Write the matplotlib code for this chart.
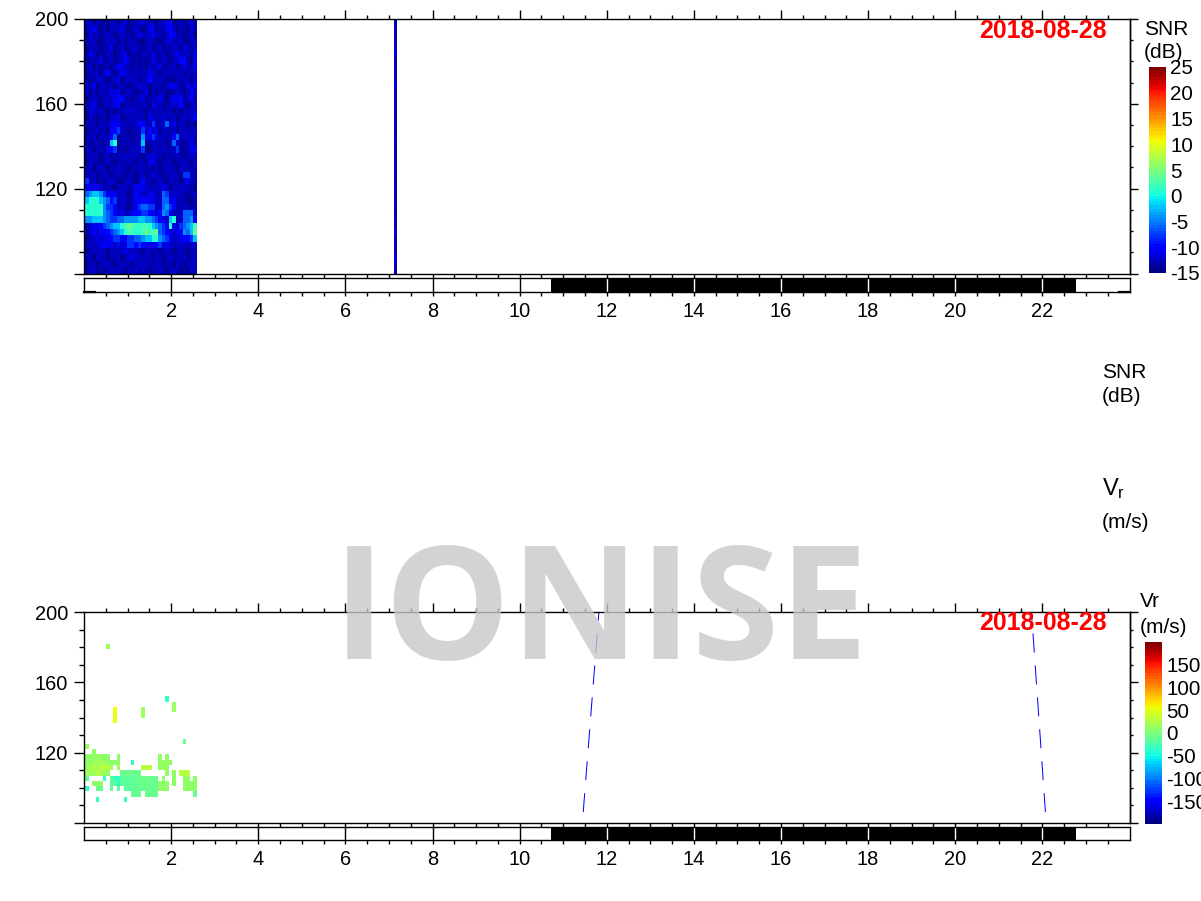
import numpy as np
import matplotlib
matplotlib.use("Agg")
import matplotlib.pyplot as plt
from matplotlib.cm import ScalarMappable
from matplotlib.colors import Normalize

plt.rcParams['font.family'] = ['Liberation Sans', 'DejaVu Sans']
plt.rcParams['axes.unicode_minus'] = False
plt.rcParams['mathtext.default'] = 'regular'

W, H = 1201, 901
LW = 1.0
FS = 14.4

CELL_HOURS = 0.08
CELL_KM = 3
T0 = 0.03
DATE = "2018-08-28"
NIGHT_START, NIGHT_END = 10.72, 22.78
STRIPE_T = 7.11

HOUR_MAJOR = [2, 4, 6, 8, 10, 12, 14, 16, 18, 20, 22]
HOUR_MINOR = [0.5, 1, 1.5, 2.5, 3, 3.5, 4.5, 5, 5.5, 6.5, 7, 7.5, 8.5, 9, 9.5, 10.5, 11, 11.5, 12.5, 13, 13.5,
              14.5, 15, 15.5, 16.5, 17, 17.5, 18.5, 19, 19.5, 20.5, 21, 21.5, 22.5, 23, 23.5]
RANGE_MAJOR = [80, 120, 160, 200]
RANGE_MINOR = [90, 100, 110, 130, 140, 150, 170, 180, 190]

# SNR levels in dB, indexed by the hex digit in the rows below
SNR_LEVELS = [-14, -13, -12, -11, -10, -8, -6, -4, -2, 1, 2, 4]
SNR_ROWS = [
    "22011001 20130111 31120213 40120130",
    "12310102 12310121 01330113 42011021",
    "03120212 01211013 21241102 43110120",
    "11200121 20101210 01210012 31120012",
    "02110113 01201121 01201201 12203112",
    "13201021 01230110 21130120 12321203",
    "01113012 01242010 10131121 01244103",
    "12010110 23321020 10212301 12013113",
    "02120241 01331211 11321021 11120112",
    "10122101 23012120 12421210 10112102",
    "11301212 02110113 22011102 33210313",
    "20102113 24012101 13010120 01210142",
    "01210221 34411012 30121320 23340231",
    "12310112 34021111 12031201 12241012",
    "03212102 01122221 10212111 20101122",
    "02101102 23011212 10321131 12012124",
    "12102113 33211124 42151126 23112010",
    "01121104 45210111 52423021 12021112",
    "11201123 60111011 73353121 14612221",
    "10120118 90111112 80121120 16210131",
    "12012034 50101122 50012121 12501133",
    "11210120 11221211 02231101 11210121",
    "02110121 01112102 10331011 20112102",
    "12012101 12110112 11102012 11022111",
    "11201210 12101101 20131101 22105511",
    "51201022 10012101 41101210 21101311",
    "33332111 02121133 32111232 01122110",
    "67887533 41210142 21331165 12211012",
    "89998764 51220233 44331266 33111001",
    "99999755 41210135 66551267 54112101",
    "99999765 42312344 55442476 31126662",
    "77888765 56677778 87765332 89126673",
    "12334567 889abaa9 aa987654 9325678a",
    "12424345 6789aa99 abaab654 3234768b",
    "01232334 55445566 78899765 32234458",
    "12123433 24235545 43334523 21222122",
    "01212102 11232121 02112012 10111011",
    "11021201 12012321 12102101 21112012",
    "02101221 01211012 21111201 10210121",
    "11201012 12101120 21011210 22101021",
]
SNR_STRIPE = [-13, -12, -13, -12, -12, -11, -13, -12, -13, -12, -11, -13, -12, -13, -12, -13, -12, -13, -12, -12,
              -13, -13, -12, -13, -12, -13, -12, -13, -12, -13, -13, -12, -13, -11, -13, -12, -13, -11, -12, -13]

# Radial velocity levels in m/s, indexed by the digit in the rows below; '.' is no data
VR_LEVELS = [-45, -32, -15, -8, 8, 18, 30, 40, 55]
BLANK = "........ ........ ........ ........"
VR_ROWS = [BLANK] * 6 + [
    "......5. ........ ........ ........",
] + [BLANK] * 9 + [
    "........ ........ .......1 ........",
    "........ ........ ........ .5......",
    "........ 8....... 5....... .5......",
    "........ 8....... 5....... ........",
    "........ 8....... ........ ........",
] + [BLANK] * 3 + [
    "........ ........ ........ ....3...",
    "5....... ........ ........ ........",
    "..4..... ........ ........ ........",
    "4445444. .4...... .....4.4 ........",
    "44555544 44...1.. .....445 4.......",
    "55656665 .5...... 666..454 ........",
    "5556554. ..333333 .......4 .4.666..",
    "2....1.2 11222233 33333.4. .4..44.4",
    "..444..2 21222233 33333444 .4..4444",
    "1..33..2 .2.22233 33333444 ....4444",
    "........ .....333 .3333... .......3",
    "...1.... ...1.... ........ ........",
] + [BLANK] * 4

# Terminator lines of the velocity panel: hour and range at each end
TERM_1_T, TERM_1_R = [11.46, 11.82], [86.2, 200]
TERM_2_T, TERM_2_R = [22.07, 21.75], [86.2, 200]

SNR_TICKS = [-15, -10, -5, 0, 5, 10, 15, 20, 25]
VR_TICKS = [-150, -100, -50, 0, 50, 100, 150]

snr = np.array([[SNR_LEVELS[int(ch, 16)] for ch in row.replace(" ", "")] for row in SNR_ROWS], float)
vr = np.array([[np.nan if ch == '.' else VR_LEVELS[int(ch)] for ch in row.replace(" ", "")] for row in VR_ROWS], float)

cmap = plt.get_cmap('jet', 64)
t_edges = T0 + CELL_HOURS * np.arange(snr.shape[1] + 1)
r_edges = 200 - CELL_KM * np.arange(snr.shape[0] + 1)


def box(l, t, r, b):
    return [l / W, 1 - b / H, (r - l) / W, (b - t) / H]


def ftext(x, y, s, **kw):
    kw.setdefault('fontsize', 15)
    kw.setdefault('va', 'baseline')
    return fig.text(x / W, 1 - y / H, s, **kw)


def px(n):
    return n * 0.72


def style_main(ax):
    ax.set_xlim(0, 24)
    ax.set_ylim(80, 200)
    ax.set_xticks(HOUR_MAJOR, [''] * len(HOUR_MAJOR))
    ax.set_xticks(HOUR_MINOR, minor=True)
    ax.set_yticks(RANGE_MAJOR, ['', '120', '160', '200'])
    ax.set_yticks(RANGE_MINOR, minor=True)
    ax.tick_params(axis='x', which='major', top=True, bottom=False, labelbottom=False, length=px(9), width=LW)
    ax.tick_params(axis='x', which='minor', top=True, bottom=False, length=px(4), width=LW)
    ax.tick_params(axis='y', which='major', length=px(10), width=LW, pad=px(6), labelsize=FS)
    ax.tick_params(axis='y', which='minor', length=px(5), width=LW)
    for s in ax.spines.values():
        s.set_linewidth(LW)
    sec = ax.secondary_yaxis('right')
    sec.set_yticks(RANGE_MAJOR, [''] * len(RANGE_MAJOR))
    sec.set_yticks(RANGE_MINOR, minor=True)
    sec.tick_params(axis='y', which='major', length=px(8), width=LW, labelright=False)
    sec.tick_params(axis='y', which='minor', length=px(3), width=LW)
    sec.spines['right'].set_linewidth(LW)


def style_bar(ax):
    ax.set_xlim(0, 24)
    ax.set_ylim(0, 1)
    ax.set_yticks([])
    ax.set_xticks(HOUR_MAJOR, [str(v) for v in HOUR_MAJOR])
    ax.set_xticks(HOUR_MINOR, minor=True)
    for which in ('major', 'minor'):
        ax.tick_params(axis='x', which=which, top=True, bottom=True, length=px(4), width=LW, pad=px(6), labelsize=FS)
    for s in ax.spines.values():
        s.set_linewidth(LW)
    ax.axvspan(NIGHT_START, NIGHT_END, color='black', lw=0)
    for h in HOUR_MAJOR:
        inside = NIGHT_START < h < NIGHT_END
        ax.plot([h, h], [0, 1], color='white' if inside else 'black', lw=LW)


def colorbar(rect, vmin, vmax, ticks):
    cax = fig.add_axes(rect)
    sm = ScalarMappable(norm=Normalize(vmin, vmax), cmap=cmap)
    cb = fig.colorbar(sm, cax=cax, ticks=ticks)
    cb.outline.set_visible(False)
    cb.ax.tick_params(length=0, pad=px(4), labelsize=14.8)
    return cb


fig = plt.figure(figsize=(W / 100, H / 100), dpi=100, facecolor='white')

# Upper panel: SNR
ax1 = fig.add_axes(box(84, 19, 1129.5, 273.5))
ax1.pcolormesh(t_edges, r_edges, snr, cmap=cmap, vmin=-15, vmax=25, linewidth=0)
ax1.pcolormesh([STRIPE_T, STRIPE_T + CELL_HOURS], r_edges, np.array(SNR_STRIPE, float)[:, None],
               cmap=cmap, vmin=-15, vmax=25, linewidth=0)
style_main(ax1)

bar1 = fig.add_axes(box(84, 277.5, 1129.5, 292))
style_bar(bar1)
for a, b in [(0, 0.25), (23.75, 24)]:
    bar1.plot([a, b], [0, 0], color='black', lw=1.6, clip_on=False)

colorbar(box(1149, 67, 1166, 273), -15, 25, SNR_TICKS)

# Lower panel: radial velocity
ax2 = fig.add_axes(box(84, 612, 1129.5, 823))
ax2.pcolormesh(t_edges, r_edges, vr, cmap=cmap, vmin=-200, vmax=200, linewidth=0)
for tt, rr in [(TERM_1_T, TERM_1_R), (TERM_2_T, TERM_2_R)]:
    ax2.plot(tt, rr, color='#0000ff', lw=0.72, linestyle=(0, (19, 13)), dash_capstyle='butt')
style_main(ax2)

bar2 = fig.add_axes(box(84, 826.5, 1129.5, 840))
style_bar(bar2)

colorbar(box(1145, 642, 1162, 824), -200, 200, VR_TICKS)

# Texts
ftext(1144, 35, "SNR")
ftext(1144, 58, "(dB)")
ftext(1102, 378, "SNR")
ftext(1102, 402, "(dB)")
ftext(1102, 495, r"V$_{r}$", fontsize=17)
ftext(1102, 528, "(m/s)")
ftext(1140, 607, "Vr")
ftext(1140, 633, "(m/s)")
for y in (38, 630):
    ftext(1107, y, DATE, color='red', fontweight='bold', fontsize=17.9, ha='right')

fig.text(601 / W, 1 - 659 / H, "IONISE", family='Open Sans', fontweight='bold', fontsize=114,
         color=(200 / 255, 200 / 255, 200 / 255), alpha=0.8, ha='center', va='baseline')

fig.savefig('out.png', dpi=100)
